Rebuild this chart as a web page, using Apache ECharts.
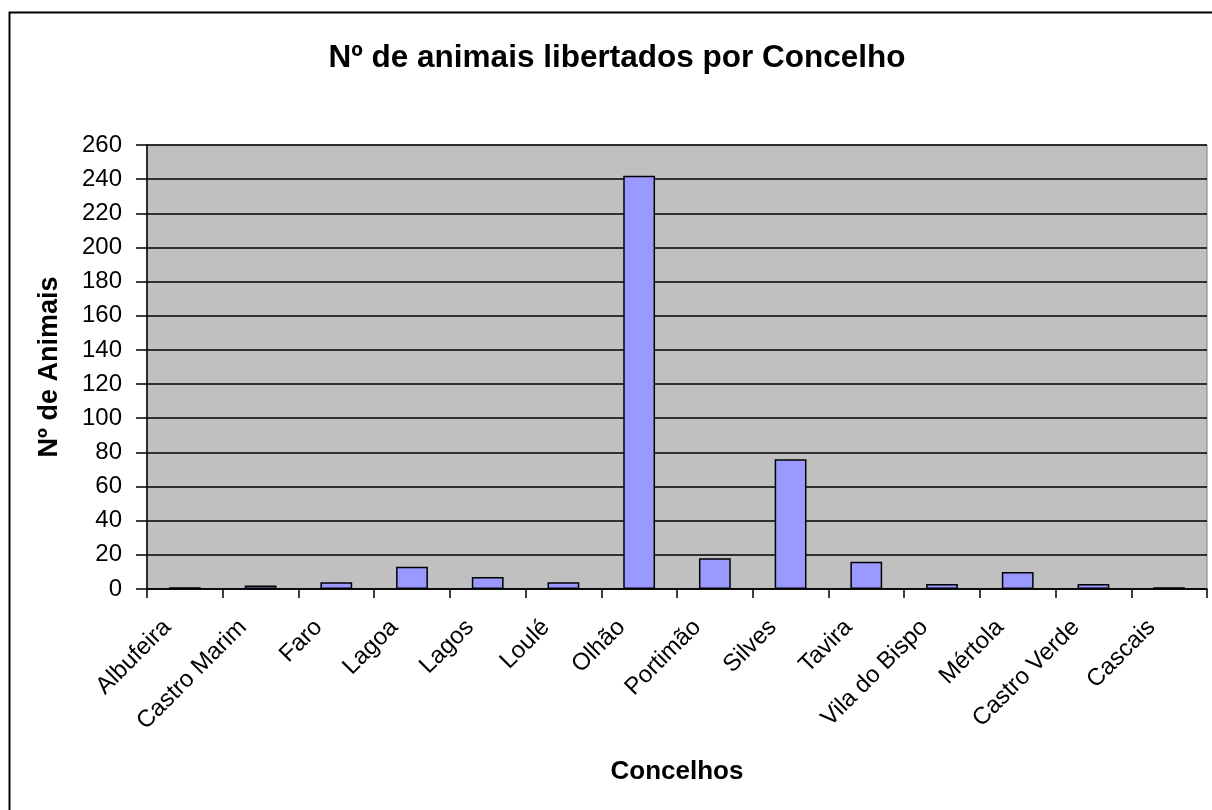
<!DOCTYPE html>
<html>
<head>
<meta charset="utf-8">
<style>
  html, body { margin: 0; padding: 0; background: #ffffff; }
  #chart { width: 1212px; height: 810px; }
</style>
<script src="https://cdn.jsdelivr.net/npm/echarts@6/dist/echarts.min.js"></script>
</head>
<body>
<div id="chart"></div>
<script>
// Animals released per municipality
const concelhos = ['Albufeira', 'Castro Marim', 'Faro', 'Lagoa', 'Lagos', 'Loulé', 'Olhão',
  'Portimão', 'Silves', 'Tavira', 'Vila do Bispo', 'Mértola', 'Castro Verde', 'Cascais'];
const animais = [1, 2, 4, 13, 7, 4, 242, 18, 76, 16, 3, 10, 3, 1];
const yTicks = { min: 0, max: 260, interval: 20 };

const FONT = 'Liberation Sans, Arial, sans-serif';

const chart = echarts.init(document.getElementById('chart'));
chart.setOption({
  animation: false,
  backgroundColor: '#ffffff',
  title: {
    text: 'Nº de animais libertados por Concelho',
    left: 612,
    top: 37,
    textAlign: 'center',
    textStyle: { fontFamily: FONT, fontSize: 31.5, fontWeight: 'bold', color: '#000' }
  },
  graphic: [{
    type: 'rect',
    shape: { x: 9.5, y: 12.5, width: 1230, height: 830 },
    style: { fill: 'none', stroke: '#000', lineWidth: 2 },
    silent: true
  }],
  grid: {
    left: 147, right: 5, top: 145, bottom: 221,
    show: true,
    backgroundColor: '#C0C0C0',
    borderColor: '#808080',
    borderWidth: 1
  },
  xAxis: {
    type: 'category',
    data: concelhos,
    name: 'Concelhos',
    nameLocation: 'middle',
    nameGap: 170,
    nameTextStyle: { fontFamily: FONT, fontSize: 26, fontWeight: 'bold', color: '#000' },
    axisLine: { lineStyle: { color: '#000', width: 1.5 } },
    axisTick: { show: true, length: 9, lineStyle: { color: '#000', width: 1.5 } },
    axisLabel: {
      rotate: 45, interval: 0, margin: 0,
      verticalAlign: 'top',
      padding: [0, 37, 0, 0],
      fontFamily: FONT, fontSize: 24, color: '#000'
    }
  },
  yAxis: {
    type: 'value',
    min: yTicks.min, max: yTicks.max, interval: yTicks.interval,
    name: 'Nº de Animais',
    nameLocation: 'middle',
    nameGap: 84,
    nameTextStyle: { fontFamily: FONT, fontSize: 27, fontWeight: 'bold', color: '#000' },
    axisLine: { show: true, lineStyle: { color: '#000', width: 1.5 } },
    axisTick: { show: true, length: 11, lineStyle: { color: '#000', width: 1.5 } },
    axisLabel: { fontFamily: FONT, fontSize: 24, color: '#000', margin: 25 },
    splitLine: { show: true, lineStyle: { color: '#000', width: 1.5 } }
  },
  series: [{
    type: 'bar',
    data: animais,
    barWidth: '42%',
    itemStyle: { color: '#9999FF', borderColor: '#000', borderWidth: 1.5 }
  }]
});
</script>
</body>
</html>
